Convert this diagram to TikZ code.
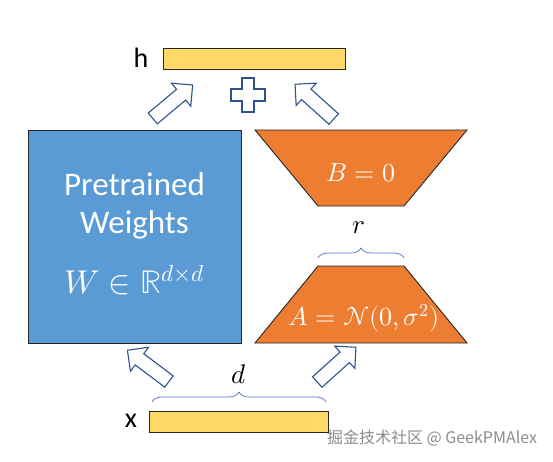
\documentclass[tikz,border=0pt]{standalone}
\usepackage{amsmath}
\usepackage{fontspec}
\usepackage{unicode-math}
\setmathfont{Latin Modern Math}
\setsansfont{Carlito}
\newfontfamily\cjkfont{Noto Sans CJK SC}
\usetikzlibrary{shapes.arrows,decorations.pathreplacing}
\definecolor{wblue}{HTML}{5B9BD5}
\definecolor{lorange}{HTML}{ED7D31}
\definecolor{vecyellow}{HTML}{FFD966}
\definecolor{arrowblue}{HTML}{2F528F}
\definecolor{braceblue}{HTML}{4472C4}
\tikzset{
  vector/.style={draw=black!85, fill=vecyellow, line width=0.9pt, inner sep=0pt},
  fatarrow/.style={single arrow, draw=arrowblue, fill=white, line width=1.1pt,
    minimum height=52pt, inner sep=6.5pt, single arrow head extend=8pt},
  mybrace/.style={decorate, decoration={brace, amplitude=10pt}, draw=braceblue, line width=0.7pt},
  matrix box/.style={draw=black!85, line width=0.9pt},
}

\begin{document}
\begin{tikzpicture}[x=1pt, y=-1pt]
\useasboundingbox (0,0) rectangle (553,461);
% Vectors
    \node[vector, minimum width=182pt, minimum height=21pt] (hvec) at (254,58.5) {};
    \node[font=\sffamily\fontsize{28}{28}\selectfont] (hlab) at (141,58) {h};
    \node[vector, minimum width=179pt, minimum height=21pt] (xvec) at (238.5,421.5) {};
    \node[font=\sffamily\fontsize{28}{28}\selectfont] (xlab) at (131,421) {x};
% Pretrained weights
    \node[matrix box, fill=wblue, minimum size=213pt] (weights) at (134.5,236.5) {};
    \node[text=white, align=center, font=\sffamily\fontsize{33}{38}\selectfont] (wname) at (134.5,206) {Pretrained\\Weights};
    \node[text=white, font=\fontsize{33}{33}\selectfont] (wmath) at (134.5,280) {$W \in \mathbb{R}^{d\times d}$};
% Low-rank matrices
    \draw[matrix box, fill=lorange] (255,130) -- (467,130) -- (404,206) -- (318,206) -- cycle;
    \node[text=white, font=\fontsize{26}{26}\selectfont] (bmat) at (361,173) {$B = 0$};
    \draw[matrix box, fill=lorange] (318,266) -- (404,266) -- (467,343) -- (255,343) -- cycle;
    \node[text=white, font=\fontsize{26}{26}\selectfont] (amat) at (364,318) {$A = \mathcal{N}(0,\sigma^2)$};
% Braces
    \coordinate (rl) at (318,258);
    \coordinate (rr) at (404,258);
    \draw[mybrace] (rl) -- (rr);
    \node[font=\fontsize{27}{27}\selectfont] (rlab) at (359,228) {$r$};
    \coordinate (dl) at (152,402);
    \coordinate (dr) at (326,402);
    \draw[mybrace] (dl) -- (dr);
    \node[font=\fontsize{27}{27}\selectfont] (dlab) at (239,374) {$d$};
% Arrows
    \node[fatarrow, rotate=40] (a1) at (170,104) {};
    \node[fatarrow, rotate=138] (a2) at (317,104) {};
    \node[fatarrow, rotate=143] (a3) at (151,368) {};
    \node[fatarrow, rotate=42] (a4) at (334,367) {};
    \draw[draw=arrowblue, fill=white, line width=1.1pt, shift={(248,95)}]
      (-6,-17) -- (6,-17) -- (6,-6) -- (17,-6) -- (17,6) -- (6,6) -- (6,17)
      -- (-6,17) -- (-6,6) -- (-17,6) -- (-17,-6) -- (-6,-6) -- cycle;
% Watermark
    \node[text=black!45, font=\cjkfont\fontsize{16}{16}\selectfont] (mark) at (432,438) {掘金技术社区 @ GeekPMAlex};
\end{tikzpicture}
\end{document}
